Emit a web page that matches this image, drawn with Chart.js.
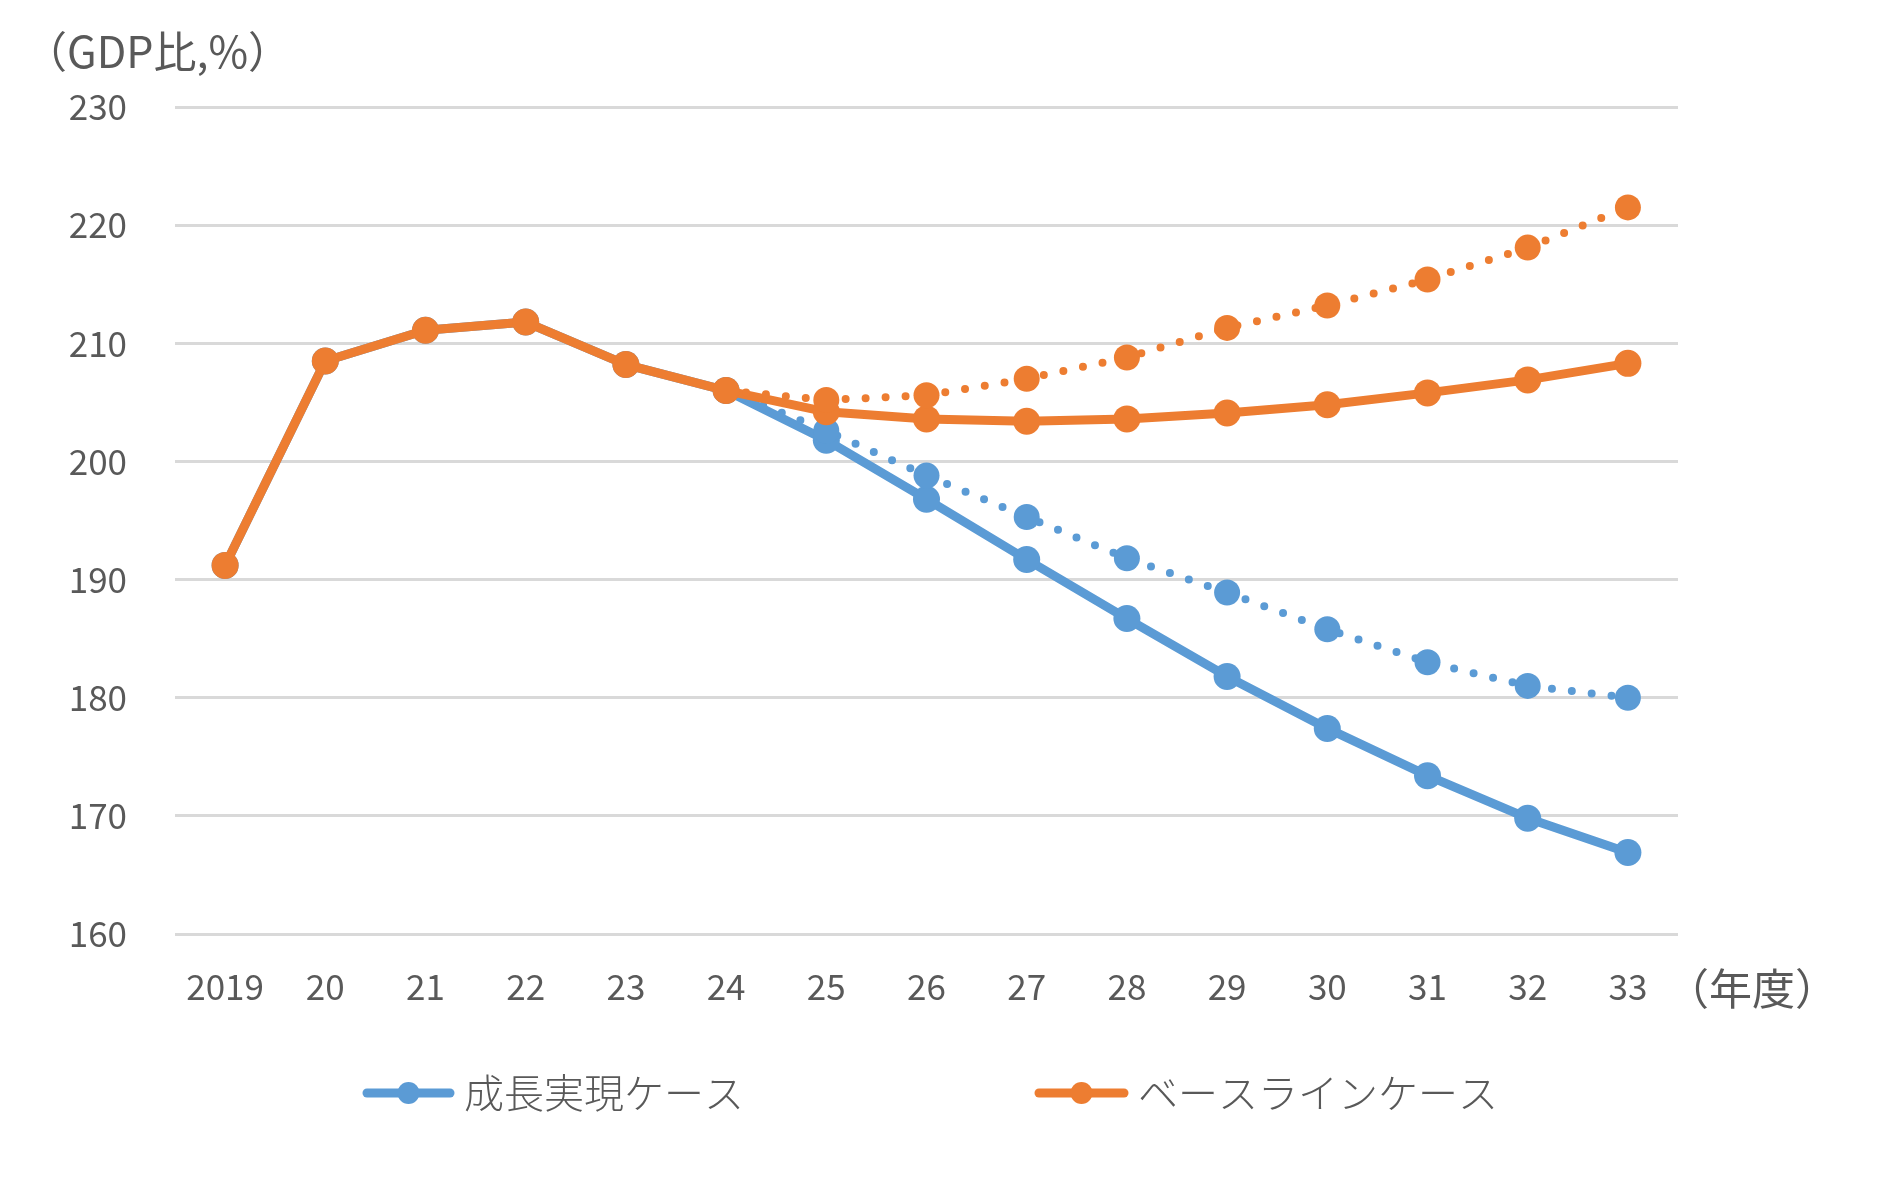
<!DOCTYPE html>
<html>
<head>
<meta charset="utf-8">
<script src="https://cdn.jsdelivr.net/npm/chart.js@4.4.1/dist/chart.umd.min.js"></script>
<style>
  html, body { margin: 0; padding: 0; background: #ffffff; }
  #wrap { width: 1898px; height: 1192px; position: relative; }
</style>
</head>
<body>
<div id="wrap"><canvas id="c" width="1898" height="1192"></canvas></div>
<script>
const categories = ['2019','20','21','22','23','24','25','26','27','28','29','30','31','32','33'];
const growthSolid  = [191.2, 208.5, 211.1, 211.8, 208.2, 206.0, 201.8, 196.8, 191.7, 186.7, 181.8, 177.4, 173.4, 169.8, 166.9];
const growthDotted = [null, null, null, null, null, 206.0, 202.6, 198.8, 195.3, 191.8, 188.9, 185.8, 183.0, 181.0, 180.0];
const baseSolid    = [191.2, 208.5, 211.1, 211.8, 208.2, 206.0, 204.2, 203.6, 203.4, 203.6, 204.1, 204.8, 205.8, 206.9, 208.3];
const baseDotted   = [null, null, null, null, null, 206.0, 205.2, 205.6, 207.0, 208.8, 211.3, 213.2, 215.4, 218.1, 221.5];
const yTicks = [160, 170, 180, 190, 200, 210, 220, 230];
const seriesNames = ['成長実現ケース', 'ベースラインケース'];
const yUnit = '（GDP比,%）';
const xUnit = '（年度）';

const BLUE = '#5B9BD5';
const ORANGE = '#ED7D31';
const TEXT = '#595959';
const JP = '"Noto Sans CJK JP", "Noto Sans", sans-serif';

const extraText = {
  id: 'extraText',
  afterDraw(chart) {
    const ctx = chart.ctx;
    ctx.save();
    ctx.fillStyle = TEXT;
    ctx.font = '43px ' + JP;
    ctx.textAlign = 'left';
    ctx.textBaseline = 'middle';
    ctx.fillText(yUnit, 24, 52);
    ctx.fillText(xUnit, 1666, 989);

    // legend
    const items = [
      { ds: chart.data.datasets[3], lineX0: 363, lineX1: 454, textX: 464 },
      { ds: chart.data.datasets[1], lineX0: 1035, lineX1: 1128, textX: 1138 }
    ];
    const ly = 1093;
    items.forEach(it => {
      ctx.strokeStyle = it.ds.borderColor;
      ctx.lineWidth = 9;
      ctx.lineCap = 'round';
      ctx.beginPath();
      ctx.moveTo(it.lineX0 + 4, ly);
      ctx.lineTo(it.lineX1 - 4, ly);
      ctx.stroke();
      ctx.fillStyle = it.ds.pointBackgroundColor;
      ctx.beginPath();
      ctx.arc((it.lineX0 + it.lineX1) / 2, ly, 11, 0, Math.PI * 2);
      ctx.fill();
      ctx.fillStyle = TEXT;
      ctx.font = '300 40px ' + JP;
      ctx.textAlign = 'left';
      ctx.textBaseline = 'middle';
      ctx.fillText(it.ds.label, it.textX, ly);
    });
    ctx.restore();
  }
};

function solid(label, data, color, order) {
  return {
    label, data, order,
    borderColor: color, backgroundColor: color,
    pointBackgroundColor: color, pointBorderColor: color,
    borderWidth: 9, pointRadius: 13.5, pointBorderWidth: 0,
    pointHoverRadius: 13.5, tension: 0, spanGaps: false,
    borderCapStyle: 'round', borderJoinStyle: 'round'
  };
}
function dotted(label, data, color, order) {
  return {
    label, data, order,
    borderColor: color, backgroundColor: color,
    pointBackgroundColor: color, pointBorderColor: color,
    borderWidth: 8, borderDash: [0, 20], borderCapStyle: 'round',
    pointRadius: 13, pointBorderWidth: 0, pointHoverRadius: 13,
    tension: 0, spanGaps: false
  };
}

new Chart(document.getElementById('c'), {
  type: 'line',
  data: {
    labels: categories,
    datasets: [
      dotted(seriesNames[1] + '（点線）', baseDotted, ORANGE, 1),
      solid(seriesNames[1], baseSolid, ORANGE, 2),
      dotted(seriesNames[0] + '（点線）', growthDotted, BLUE, 3),
      solid(seriesNames[0], growthSolid, BLUE, 4)
    ]
  },
  options: {
    responsive: false,
    animation: false,
    devicePixelRatio: 1,
    layout: { padding: { left: 0, right: 220, top: 107, bottom: 158 } },
    plugins: { legend: { display: false }, tooltip: { enabled: false }, title: { display: false } },
    scales: {
      x: {
        type: 'category',
        offset: true,
        grid: { display: false, drawTicks: false, tickLength: 0 },
        border: { display: false },
        ticks: { color: TEXT, font: { family: JP, size: 35 }, padding: 32, maxRotation: 0, autoSkip: false },
        afterFit(s) { s.height = 100; }
      },
      y: {
        min: 160, max: 230,
        afterBuildTicks(s) { s.ticks = yTicks.map(v => ({ value: v })); },
        grid: { color: '#D9D9D9', lineWidth: 3, drawTicks: false, tickLength: 0 },
        border: { display: false },
        ticks: { color: TEXT, font: { family: JP, size: 35 }, padding: 48 },
        afterFit(s) { s.width = 175; }
      }
    }
  },
  plugins: [extraText]
});
</script>
</body>
</html>
